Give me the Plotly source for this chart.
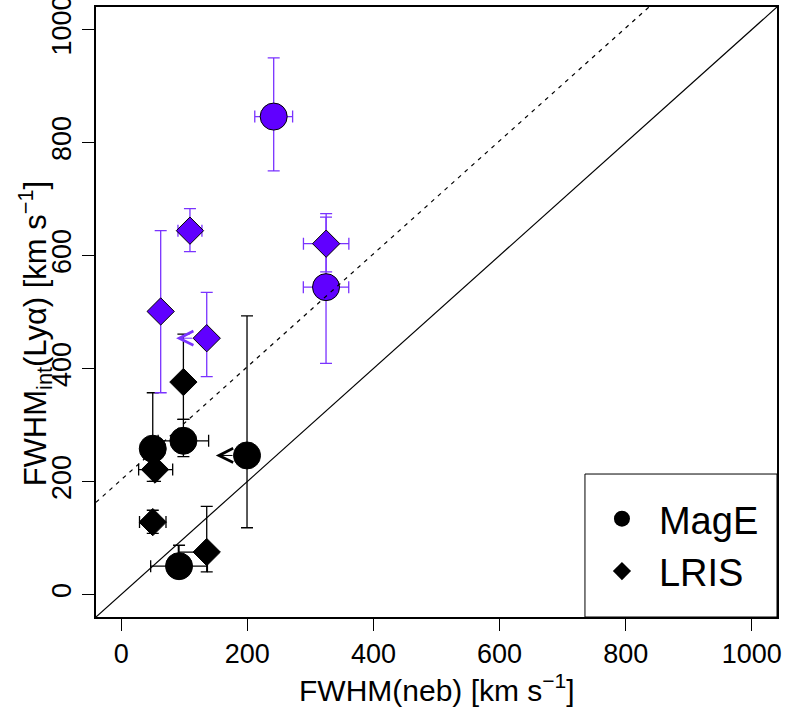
import plotly.graph_objects as go

# ---------------- data ----------------
# MagE (circles) - black
mage_blk_x = [50, 98.6, 199.5, 91.7]
mage_blk_y = [258, 272, 246, 50]
mage_blk_xp = [0, 40, 0, 45]
mage_blk_xm = [0, 40, 0, 45]
mage_blk_yp = [99, 38, 247, 37]
mage_blk_ym = [58, 28, 128, 20]

# MagE (circles) - purple
mage_pur_x = [241.8, 324.8]
mage_pur_y = [846, 544]
mage_pur_xp = [30, 36]
mage_pur_xm = [30, 36]
mage_pur_yp = [104, 124]
mage_pur_ym = [96, 135]

# LRIS (diamonds) - black
lris_blk_x = [98.6, 53.6, 50, 135.6]
lris_blk_y = [376, 221, 128, 75]
lris_blk_xp = [0, 28, 21, 0]
lris_blk_xm = [0, 26, 21, 45]
lris_blk_yp = [85, 20, 21, 81]
lris_blk_ym = [66, 21, 20, 35]

# LRIS (diamonds) - purple
lris_pur_x = [325, 109, 62.6, 135.6]
lris_pur_y = [621, 644, 501, 453.6]
lris_pur_xp = [36, 19, 0, 0]
lris_pur_xm = [36, 19, 0, 0]
lris_pur_yp = [53, 39, 143, 81]
lris_pur_ym = [50, 37, 144, 68]

# upper limits in x (arrows): from x, y, to x, colour group
lim_x_from = [199.5, 135.6]
lim_y = [246, 453.6]
lim_x_to = [150, 87]
lim_group = ["black", "purple"]

# reference lines
axis_range = [-40, 1040]
one_to_one_offset = 0
dashed_offset = 203

tick_vals = [0, 200, 400, 600, 800, 1000]

PURPLE = "#6000ff"
PURPLE_BAR = "#7a33ff"
FONT = "Liberation Sans, Arial, Helvetica, sans-serif"

fig = go.Figure()

def add_points(x, y, xp, xm, yp, ym, symbol, size, fill, barcol):
    fig.add_trace(go.Scatter(
        x=x, y=y, mode="markers", showlegend=False,
        marker=dict(symbol=symbol, size=size, color=fill,
                    line=dict(color="black", width=1)),
        error_x=dict(type="data", symmetric=False, array=xp, arrayminus=xm,
                     color=barcol, thickness=1.3, width=6),
        error_y=dict(type="data", symmetric=False, array=yp, arrayminus=ym,
                     color=barcol, thickness=1.3, width=6),
    ))

add_points(mage_blk_x, mage_blk_y, mage_blk_xp, mage_blk_xm, mage_blk_yp, mage_blk_ym,
           "circle", 27, "black", "black")
add_points(lris_blk_x, lris_blk_y, lris_blk_xp, lris_blk_xm, lris_blk_yp, lris_blk_ym,
           "diamond", 21, "black", "black")
add_points(mage_pur_x, mage_pur_y, mage_pur_xp, mage_pur_xm, mage_pur_yp, mage_pur_ym,
           "circle", 27, PURPLE, PURPLE_BAR)
add_points(lris_pur_x, lris_pur_y, lris_pur_xp, lris_pur_xm, lris_pur_yp, lris_pur_ym,
           "diamond", 21, PURPLE, PURPLE_BAR)

# reference lines (on top, as in the original)
fig.add_trace(go.Scatter(
    x=axis_range, y=[v + one_to_one_offset for v in axis_range], mode="lines",
    line=dict(color="black", width=1.2), showlegend=False, hoverinfo="skip"))
fig.add_trace(go.Scatter(
    x=axis_range, y=[v + dashed_offset for v in axis_range], mode="lines",
    line=dict(color="black", width=1.2, dash="4px,5px"), showlegend=False, hoverinfo="skip"))

# legend entries
fig.add_trace(go.Scatter(x=[None], y=[None], mode="markers", name="MagE",
                         marker=dict(symbol="circle", size=18, color="black")))
fig.add_trace(go.Scatter(x=[None], y=[None], mode="markers", name="LRIS",
                         marker=dict(symbol="diamond", size=14, color="black")))

# arrows (upper limits)
for xf, yy, xt, g in zip(lim_x_from, lim_y, lim_x_to, lim_group):
    col = "black" if g == "black" else PURPLE_BAR
    fig.add_annotation(x=xt, y=yy, ax=xf, ay=yy, xref="x", yref="y", axref="x", ayref="y",
                       showarrow=True, arrowhead=5, arrowsize=2.8, arrowwidth=1,
                       arrowcolor=col, startstandoff=13, text="")

# axis titles
fig.add_annotation(text="FWHM(neb) [km s<sup>−1</sup>]", xref="paper", yref="paper",
                   x=0.5, y=-0.116, xanchor="center", yanchor="middle", showarrow=False,
                   font=dict(family=FONT, size=30, color="black"))
fig.add_annotation(text="FWHM<sub>int</sub>(Lyα) [km s<sup>−1</sup>]", xref="paper", yref="paper",
                   x=-0.0896, y=0.465, xanchor="center", yanchor="middle", showarrow=False,
                   textangle=-90, font=dict(family=FONT, size=31, color="black"))

axis_common = dict(range=axis_range, tickvals=tick_vals, ticks="outside", ticklen=12,
                   tickwidth=1.3, tickcolor="black", showline=True, linecolor="black",
                   linewidth=2, mirror=True, showgrid=False, zeroline=False,
                   ticklabeloverflow="allow", automargin=False,
                   tickfont=dict(family=FONT, size=27, color="black"))

fig.update_layout(
    width=788, height=713,
    margin=dict(l=96, r=11, t=7, b=96, autoexpand=False),
    plot_bgcolor="white", paper_bgcolor="white",
    xaxis=axis_common,
    yaxis=dict(**axis_common, tickangle=-90),
    font=dict(family=FONT, color="black"),
    shapes=[dict(type="rect", xref="paper", yref="paper", x0=0.718, x1=1.0, y0=0.0, y1=0.2344,
                 line=dict(color="black", width=1), fillcolor="white", layer="above")],
    legend=dict(x=0.718, y=0.2123, xanchor="left", yanchor="top",
                bgcolor="rgba(0,0,0,0)", borderwidth=0,
                font=dict(family=FONT, size=38, color="black"),
                itemwidth=64, entrywidth=150),
)

fig.write_html("out.html")
